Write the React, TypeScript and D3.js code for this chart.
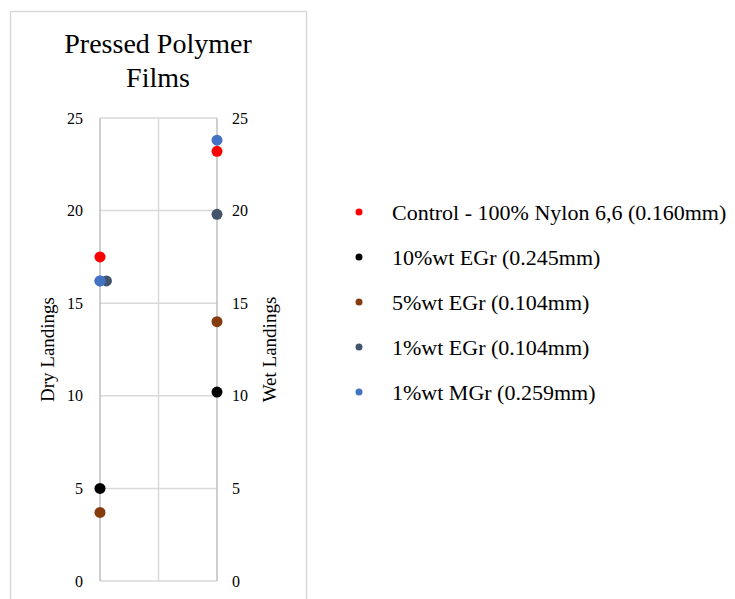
import React, { useEffect, useRef } from 'react'
import * as d3 from 'd3'

// Data
const seriesNames = [
  'Control - 100% Nylon 6,6 (0.160mm)',
  '10%wt EGr (0.245mm)',
  '5%wt EGr (0.104mm)',
  '1%wt EGr (0.104mm)',
  '1%wt MGr (0.259mm)',
]
const seriesColors = ['#ff0000', '#000000', '#843c0c', '#44546a', '#4472c4']
const dryX = [0, 0, 0, 0.11, 0]
const dryLandings = [17.5, 5.0, 3.7, 16.2, 16.2]
const wetX = [2, 2, 2, 2, 2]
const wetLandings = [23.2, 10.2, 14.0, 19.8, 23.8]
const yTicks = [0, 5, 10, 15, 20, 25]
const xGrid = [0, 1, 2]

const W = 735
const H = 599

export default function App() {
  const ref = useRef<SVGSVGElement | null>(null)

  useEffect(() => {
    const svg = d3.select(ref.current)
    svg.selectAll('*').remove()

    const font = 'Liberation Serif, Times New Roman, serif'
    const x = d3.scaleLinear().domain([0, 2]).range([100, 217])
    const y = d3.scaleLinear().domain([0, 25]).range([581, 118])

    svg.append('rect').attr('width', W).attr('height', H).attr('fill', '#fff')

    // chart box
    svg
      .append('rect')
      .attr('x', 10.5)
      .attr('y', 11.5)
      .attr('width', 296)
      .attr('height', 620)
      .attr('fill', '#fff')
      .attr('stroke', '#d9d9d9')
      .attr('stroke-width', 1.5)

    // title
    const title = svg
      .append('text')
      .style('font-family', font)
      .style('font-size', '28px')
      .attr('text-anchor', 'middle')
      .attr('fill', '#000')
    title.append('tspan').attr('x', 158).attr('y', 53).text('Pressed Polymer')
    title.append('tspan').attr('x', 158).attr('y', 87).text('Films')

    // gridlines
    svg
      .append('g')
      .selectAll('line')
      .data(yTicks)
      .enter()
      .append('line')
      .attr('x1', x(0))
      .attr('x2', x(2))
      .attr('y1', d => y(d))
      .attr('y2', d => y(d))
      .attr('stroke', '#d9d9d9')
      .attr('stroke-width', 1.5)

    svg
      .append('g')
      .selectAll('line')
      .data(xGrid)
      .enter()
      .append('line')
      .attr('x1', d => x(d))
      .attr('x2', d => x(d))
      .attr('y1', y(25))
      .attr('y2', y(0))
      .attr('stroke', d => (d === 1 ? '#d9d9d9' : '#bfbfbf'))
      .attr('stroke-width', 1.5)

    // tick labels
    const tickG = svg.append('g').style('font-family', font).style('font-size', '16px').attr('fill', '#000')
    tickG
      .selectAll('text.l')
      .data(yTicks)
      .enter()
      .append('text')
      .attr('class', 'l')
      .attr('x', 83)
      .attr('y', d => y(d))
      .attr('dy', '0.35em')
      .attr('text-anchor', 'end')
      .text(d => d)
    tickG
      .selectAll('text.r')
      .data(yTicks)
      .enter()
      .append('text')
      .attr('class', 'r')
      .attr('x', 232)
      .attr('y', d => y(d))
      .attr('dy', '0.35em')
      .attr('text-anchor', 'start')
      .text(d => d)

    // axis titles
    const midY = (y(0) + y(25)) / 2
    svg
      .append('text')
      .attr('transform', `translate(54, ${midY}) rotate(-90)`)
      .attr('text-anchor', 'middle')
      .style('font-family', font)
      .style('font-size', '19px')
      .text('Dry Landings')
    svg
      .append('text')
      .attr('transform', `translate(276, ${midY}) rotate(-90)`)
      .attr('text-anchor', 'middle')
      .style('font-family', font)
      .style('font-size', '19px')
      .text('Wet Landings')

    // points
    const pts = svg.append('g')
    seriesNames.forEach((name, i) => {
      pts
        .append('circle')
        .attr('cx', x(dryX[i]))
        .attr('cy', y(dryLandings[i]))
        .attr('r', 5.5)
        .attr('fill', seriesColors[i])
    })
    // blue drawn on top on the dry side
    pts.append('circle').attr('cx', x(dryX[4])).attr('cy', y(dryLandings[4])).attr('r', 5.5).attr('fill', seriesColors[4])
    seriesNames.forEach((name, i) => {
      pts
        .append('circle')
        .attr('cx', x(wetX[i]))
        .attr('cy', y(wetLandings[i]))
        .attr('r', 5.5)
        .attr('fill', seriesColors[i])
    })

    // legend
    const legend = svg
      .append('g')
      .selectAll('g')
      .data(seriesNames)
      .enter()
      .append('g')
      .attr('transform', (d, i) => `translate(359, ${212 + i * 45})`)
    legend
      .append('circle')
      .attr('r', 3.5)
      .attr('fill', (d, i) => seriesColors[i])
    legend
      .append('text')
      .attr('x', 33)
      .attr('dy', '0.35em')
      .style('font-family', font)
      .style('font-size', '22px')
      .attr('fill', '#000')
      .text(d => d)
  }, [])

  return (
    <div style={{ position: 'absolute', left: 0, top: 0 }}>
      <svg ref={ref} width={W} height={H} style={{ display: 'block' }} />
    </div>
  )
}
